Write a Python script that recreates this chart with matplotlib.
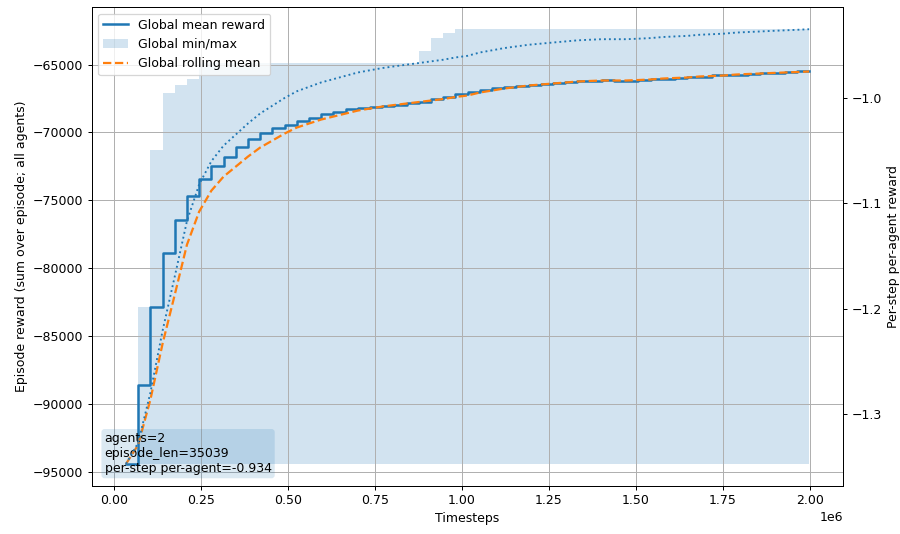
import numpy as np
import matplotlib
matplotlib.use("Agg")
import matplotlib.pyplot as plt

# run settings
n_agents = 2
episode_len = 35039

# cumulative mean of episode reward (sum over all agents), one value per episode
mean_reward = [
    -94430, -88600, -82850, -78865, -76430, -74660, -73410, -72450, -71785, -71050,
    -70460, -70015, -69645, -69425, -69130, -68910, -68615, -68465, -68245, -68170,
    -68100, -68025, -67950, -67800, -67730, -67510, -67360, -67140, -66990, -66845,
    -66695, -66625, -66550, -66475, -66400, -66330, -66255, -66215, -66180, -66145,
    -66180, -66180, -66145, -66105, -66035, -65995, -65920, -65885, -65810, -65775,
    -65740, -65665, -65625, -65590, -65555, -65515, -65453,
]

# smoothed curve
rolling_mean = [
    -94430, -93025, -89705, -85575, -81960, -78275, -75840, -74295, -73260, -72525,
    -71785, -71120, -70605, -70090, -69645, -69350, -69055, -68835, -68615, -68395,
    -68245, -68100, -67985, -67875, -67765, -67655, -67545, -67395, -67285, -67065,
    -66920, -66770, -66660, -66550, -66475, -66400, -66330, -66255, -66215, -66180,
    -66180, -66180, -66145, -66105, -66035, -65995, -65960, -65885, -65850, -65810,
    -65740, -65700, -65665, -65625, -65590, -65555, -65515,
]

# running min / max over all episodes seen so far
global_min = [-94430] * 57
global_max = ([-94430, -82850, -71270, -67065, -66475, -66105]
              + [-64870] * 18
              + [-64020, -63030, -62660]
              + [-62400] * 30)

timesteps = np.arange(1, len(mean_reward) + 1) * episode_len
per_step = np.array(rolling_mean) / (episode_len * n_agents)
final_per_step = mean_reward[-1] / (episode_len * n_agents)

fig, ax = plt.subplots(figsize=(10, 534 / 90), dpi=90)
fig.subplots_adjust(left=0.102, right=0.937, top=0.986, bottom=0.0905)

ax.plot(timesteps, mean_reward, drawstyle="steps-post", color="C0", lw=2,
        label="Global mean reward")
ax.fill_between(timesteps, global_min, global_max, step="post", color="C0",
                alpha=0.2, linewidth=0, label="Global min/max")
ax.plot(timesteps, rolling_mean, "--", color="C1", lw=1.8,
        label="Global rolling mean")
ax.set_xlabel("Timesteps")
ax.set_ylabel("Episode reward (sum over episode; all agents)")
ax.grid(True)
ax.legend(loc="upper left")

ax.text(0.017, 0.022,
        f"agents={n_agents}\nepisode_len={episode_len}\n"
        f"per-step per-agent={final_per_step:.3f}",
        transform=ax.transAxes, va="bottom", ha="left",
        bbox=dict(boxstyle="round,pad=0.25", facecolor="C0",
                  edgecolor="none", alpha=0.16))

ax2 = ax.twinx()
ax2.plot(timesteps, per_step, ":", color="C0", lw=1.5)
ax2.set_ylabel("Per-step per-agent reward")

fig.savefig("out.png", dpi=90)
